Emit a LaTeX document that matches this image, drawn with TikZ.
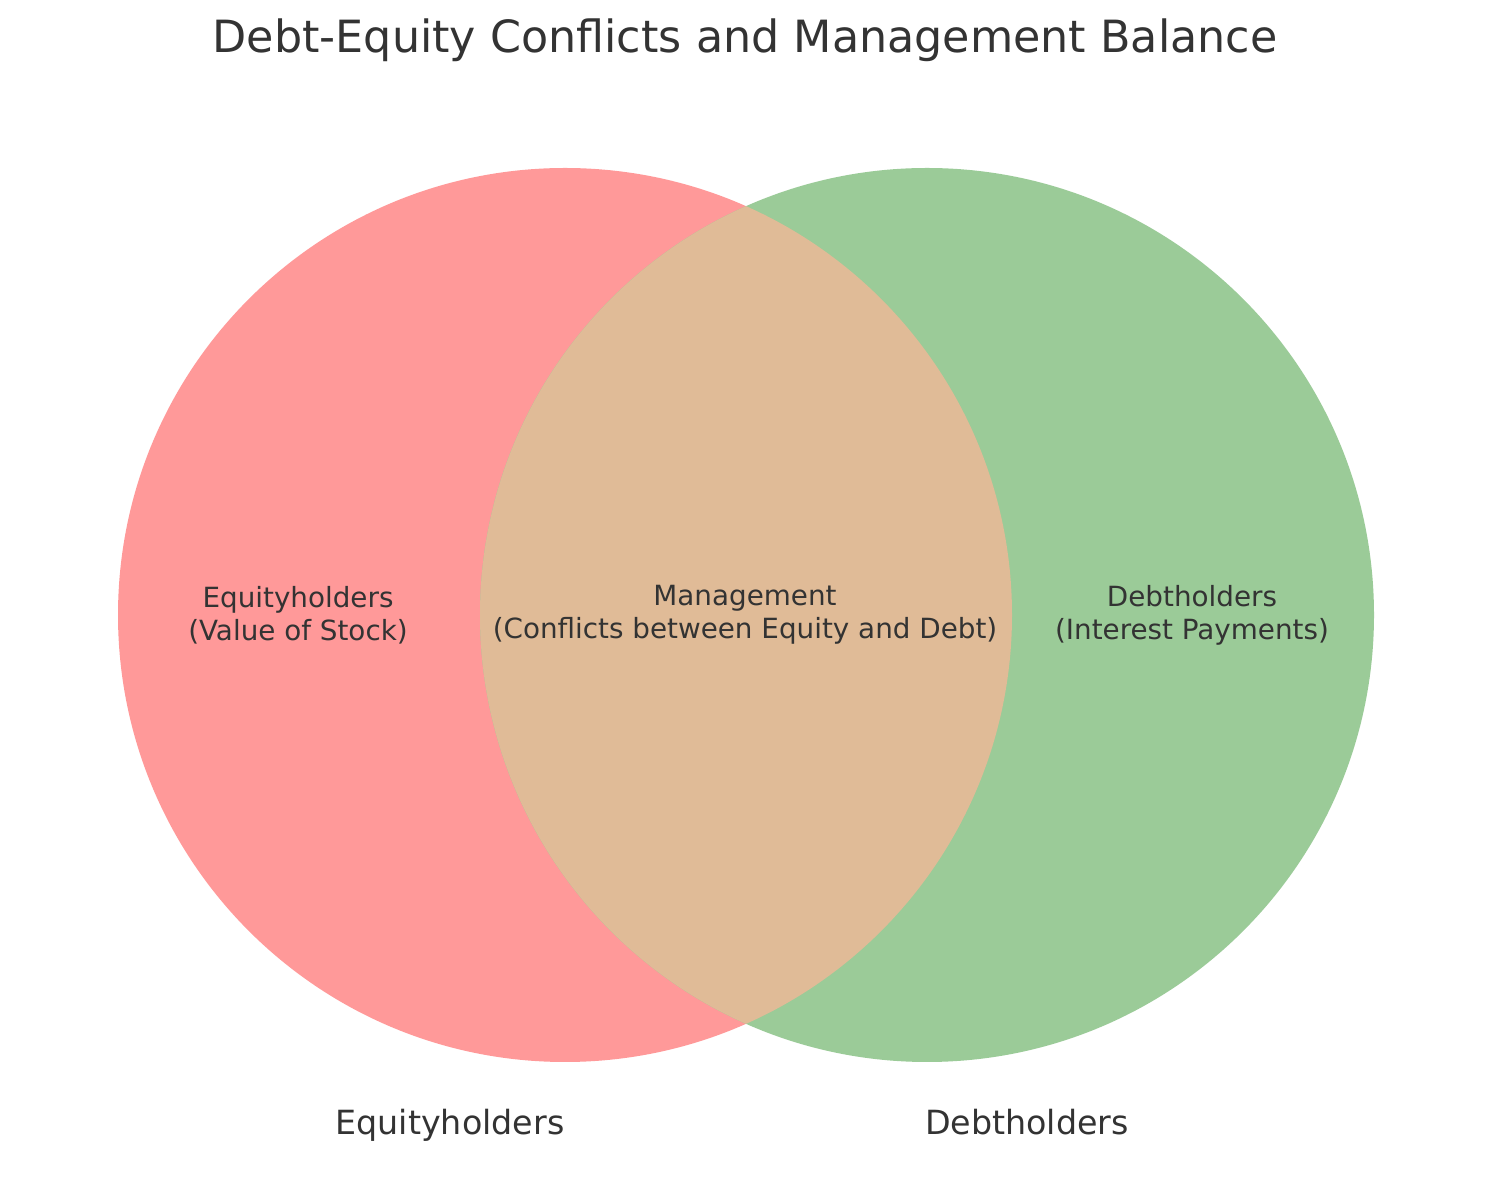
\documentclass[tikz,border=0pt]{standalone}
\usepackage{fontspec}
\setmainfont{DejaVu Sans}
\definecolor{eqc}{HTML}{FF9999}
\definecolor{dbc}{HTML}{9BCB98}
\definecolor{ovc}{HTML}{E0BB97}
\definecolor{txt}{HTML}{333333}
\begin{document}
\begin{tikzpicture}[x=1pt,y=1pt,
  inner/.style={text=txt,align=center,font=\fontsize{27.8}{33.3}\selectfont,inner sep=0pt},
  setlbl/.style={text=txt,font=\fontsize{33.3}{40}\selectfont,inner sep=0pt,anchor=base},
  ttl/.style={text=txt,font=\fontsize{44.4}{53}\selectfont,inner sep=0pt}]
\useasboundingbox (0,0) rectangle (1490,1180);
\fill[white] (0,0) rectangle (1490,1180);
\coordinate (cl) at (565,565);
\coordinate (cr) at (927,565);
\fill[eqc] (cl) circle (447);
\fill[dbc] (cr) circle (447);
\begin{scope}
\clip (cl) circle (447);
\fill[ovc] (cr) circle (447);
\end{scope}
\node[ttl] (title) at (745,1140) {Debt-Equity Conflicts and Management Balance};
\node[inner] (eq) at (298,565) {Equityholders\\(Value of Stock)};
\node[inner] (mg) at (745,565) {Management\\(Conflicts between Equity and Debt)};
\node[inner] (db) at (1192,565) {Debtholders\\(Interest Payments)};
\node[setlbl] (leq) at (450,46) {Equityholders};
\node[setlbl] (ldb) at (1027,46) {Debtholders};
\end{tikzpicture}
\end{document}
